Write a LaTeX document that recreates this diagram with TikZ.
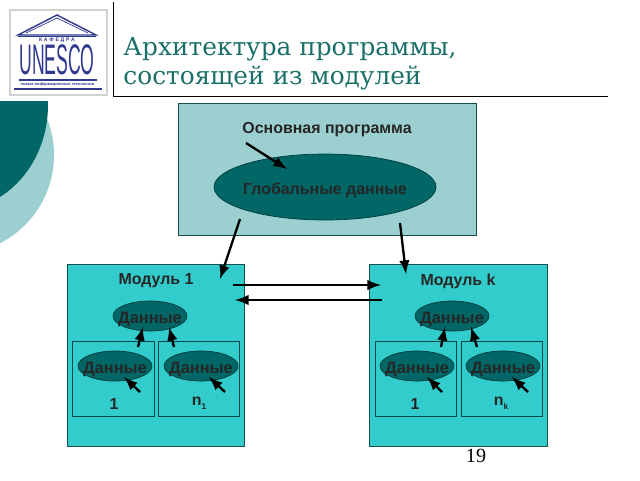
\documentclass[tikz,border=0pt]{standalone}
\usepackage{fontspec}
\usetikzlibrary{shapes.geometric}
\setmainfont{Liberation Sans}
\newfontfamily\titlefont{DejaVu Serif}
\newfontfamily\pagefont{Liberation Serif}
\definecolor{darkteal}{HTML}{006666}
\definecolor{paleteal}{HTML}{9CCFCF}
\definecolor{brightteal}{HTML}{33CCCC}
\definecolor{titleteal}{HTML}{1A7068}
\definecolor{logonavy}{HTML}{2F3A8F}
\newcommand{\OvalText}[1]{\makebox[0pt]{\raisebox{-3pt}[0pt][0pt]{#1}}}
\newcommand{\SubText}[1]{\raisebox{-1.6pt}{\fontsize{3.6}{4}\selectfont #1}}
\tikzset{
	BigBox/.style={draw=black!35!darkteal!80!gray, line width=0.4pt},
	InnerBox/.style={draw=darkteal!70!black, line width=0.35pt},
	DataOval/.style={ellipse, draw=black!40!darkteal, fill=darkteal, line width=0.3pt, minimum width=74*0.015cm, minimum height=30*0.015cm, inner sep=0pt, font=\fontsize{7}{8}\selectfont\bfseries, text=black!85},
	BoldText/.style={inner sep=0pt, font=\fontsize{6.8}{8}\selectfont\bfseries, text=black!85},
	LinkArrow/.style={-latex, line width=1pt, black},
	TitleText/.style={inner sep=0pt, anchor=base west, font=\fontsize{10.58}{12}\titlefont, text=titleteal},
	LogoLine/.style={logonavy, line width=0.4pt},
}
\begin{document}
\begin{tikzpicture}[x=0.015cm, y=-0.015cm]
\useasboundingbox (0,0) rectangle (640,480);

% left decoration
\begin{scope}
\clip (0,101) rectangle (60,260);
\fill [paleteal] (-45,155) circle [radius=99];
\fill [darkteal] (-45,105) ellipse [x radius=93, y radius=105];
\end{scope}

% header
\draw [line width=0.35pt] (113,2) -- (113,96) -- (608,96);
\node [TitleText] (TitleOne) at (123,55) {Архитектура программы,};
\node [TitleText] (TitleTwo) at (123,84) {состоящей из модулей};
\node [inner sep=0pt, font=\fontsize{8.6}{9}\pagefont] (PageNum) at (476,456) {19};

% logo
\draw [draw=black!18, line width=1.2pt, fill=white] (10,10) rectangle (107,95);
\draw [LogoLine, line width=0.6pt] (18,35) -- (57,15) -- (96,35) -- cycle;
\draw [LogoLine, line width=0.6pt] (18,36.5) -- (96,36.5);
\draw [LogoLine, line width=0.3pt] (26,33) -- (57,18) -- (88,33);
\node [inner sep=0pt, text=logonavy, font=\fontsize{2.2}{3}\selectfont\bfseries] (LogoDept) at (57,40) {К\,\,А\,\,Ф\,\,Е\,\,Д\,\,Р\,\,А};
\node [inner sep=0pt, text=logonavy, font=\fontsize{16}{16}\selectfont] (LogoName) at (57,60) {\scalebox{0.47}[1.14]{UNESCO}};
\draw [LogoLine, line width=0.7pt] (19,80) -- (97,80);
\draw [LogoLine, line width=0.7pt] (14,89) -- (102,89);
\node [inner sep=0pt, text=logonavy, font=\fontsize{1.7}{2}\selectfont\bfseries] (LogoNote) at (57.5,84.5) {новые информационные технологии};

% main program
\draw [BigBox, fill=paleteal] (178.5,103.5) rectangle (476,235);
\node [BoldText] (MainTitle) at (327,130) {Основная программа};
\node [DataOval, minimum width=222*0.015cm, minimum height=66*0.015cm, font=\fontsize{6.8}{8}\selectfont\bfseries] (GlobalData) at (325,187) {\makebox[0pt]{\raisebox{-3.3pt}[0pt][0pt]{Глобальные данные}}};

% module 1
\draw [BigBox, fill=brightteal] (67.5,264.5) rectangle (244,446);
\draw [InnerBox] (72.5,341) rectangle (154,416);
\draw [InnerBox] (158,341) rectangle (239,416);
\node [BoldText] (ModOneTitle) at (156,281) {Модуль 1};
\node [DataOval] (ModOneData) at (150,316) {\OvalText{Данные}};
\node [DataOval] (OneDataA) at (115,366) {\OvalText{Данные}};
\node [DataOval] (OneDataB) at (201,366) {\OvalText{Данные}};
\node [BoldText] (OneNumA) at (114,404) {1};
\node [BoldText] (OneNumB) at (199,403) {n\SubText{1}};

% module k
\draw [BigBox, fill=brightteal] (369.5,264.5) rectangle (547,446);
\draw [InnerBox] (375,341) rectangle (456,416);
\draw [InnerBox] (461,341) rectangle (542,416);
\node [BoldText] (ModKTitle) at (458,281) {Модуль k};
\node [DataOval] (ModKData) at (452,316) {\OvalText{Данные}};
\node [DataOval] (KDataA) at (417,366) {\OvalText{Данные}};
\node [DataOval] (KDataB) at (503,366) {\OvalText{Данные}};
\node [BoldText] (KNumA) at (415,404) {1};
\node [BoldText] (KNumB) at (501,403) {n\SubText{k}};

% arrow ends
\coordinate (GlobalFrom) at (246,143);
\coordinate (GlobalTo) at (287,169);
\coordinate (DownOneFrom) at (240,219);
\coordinate (DownOneTo) at (220,279);
\coordinate (DownKFrom) at (400,223);
\coordinate (DownKTo) at (406,274);
\coordinate (AcrossAFrom) at (233,285);
\coordinate (AcrossATo) at (381,285);
\coordinate (AcrossBFrom) at (382,300);
\coordinate (AcrossBTo) at (235,300);
\coordinate (OneUpAFrom) at (138,347);
\coordinate (OneUpATo) at (143,327);
\coordinate (OneUpBFrom) at (174,347);
\coordinate (OneUpBTo) at (169,327);
\coordinate (OneInAFrom) at (140,392);
\coordinate (OneInATo) at (124,377);
\coordinate (OneInBFrom) at (225,392);
\coordinate (OneInBTo) at (209,377);
\coordinate (KUpAFrom) at (441,347);
\coordinate (KUpATo) at (445,327);
\coordinate (KUpBFrom) at (477,347);
\coordinate (KUpBTo) at (471,327);
\coordinate (KInAFrom) at (442,392);
\coordinate (KInATo) at (427,377);
\coordinate (KInBFrom) at (528,392);
\coordinate (KInBTo) at (512,377);

\draw [LinkArrow] (GlobalFrom) -- (GlobalTo);
\draw [LinkArrow] (DownOneFrom) -- (DownOneTo);
\draw [LinkArrow] (DownKFrom) -- (DownKTo);
\draw [LinkArrow] (AcrossAFrom) -- (AcrossATo);
\draw [LinkArrow] (AcrossBFrom) -- (AcrossBTo);
\draw [LinkArrow] (OneUpAFrom) -- (OneUpATo);
\draw [LinkArrow] (OneUpBFrom) -- (OneUpBTo);
\draw [LinkArrow] (OneInAFrom) -- (OneInATo);
\draw [LinkArrow] (OneInBFrom) -- (OneInBTo);
\draw [LinkArrow] (KUpAFrom) -- (KUpATo);
\draw [LinkArrow] (KUpBFrom) -- (KUpBTo);
\draw [LinkArrow] (KInAFrom) -- (KInATo);
\draw [LinkArrow] (KInBFrom) -- (KInBTo);
\end{tikzpicture}
\end{document}
